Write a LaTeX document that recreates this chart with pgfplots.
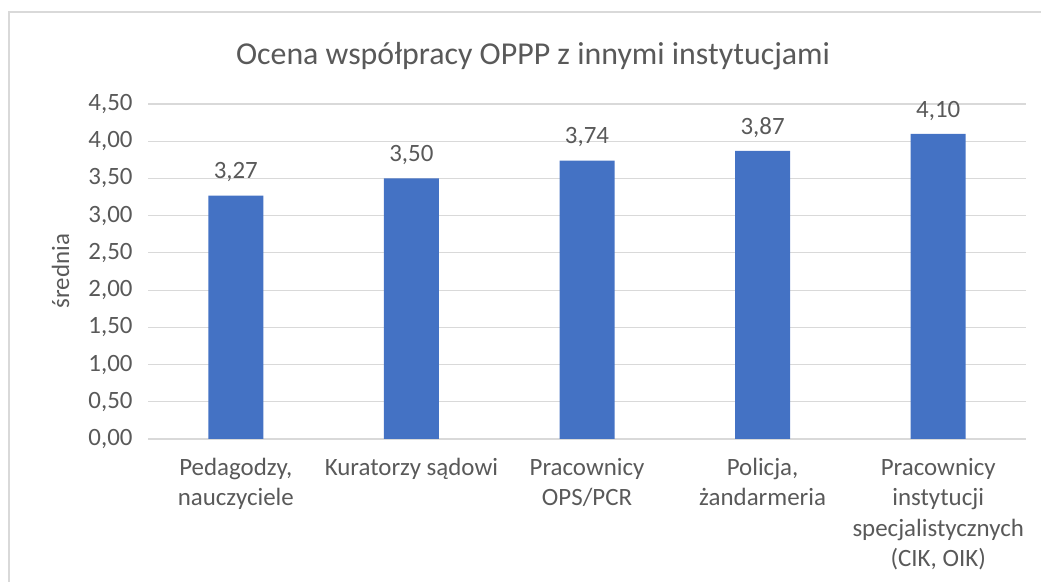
\documentclass[border=0pt]{standalone}
\usepackage{pgfplots}
\pgfplotsset{compat=1.18}
\usepackage{fontspec}
\setmainfont{Carlito}
\definecolor{bar}{HTML}{4472C4}
\definecolor{grid}{HTML}{D9D9D9}
\definecolor{txt}{HTML}{595959}
\begin{document}
\begin{tikzpicture}[x=1bp,y=1bp]
\path[use as bounding box] (0,0) rectangle (1041,582);
\draw[color=grid,line width=1.5bp] (9,-10) -- (9,570) -- (1060,570);
\node[anchor=base,text=txt,font=\fontsize{32}{36}\selectfont] at (533,517) {Ocena współpracy OPPP z innymi instytucjami};
\node[anchor=base,rotate=90,text=txt,font=\fontsize{25}{29}\selectfont] at (69,311) {średnia};
\begin{axis}[
  at={(148bp,143bp)}, anchor=south west,
  scale only axis, width=878bp, height=335bp,
  xmin=-0.5, xmax=4.5, ymin=0, ymax=4.5,
  ytick={0,0.5,...,4.5},
  xtick=data,
  xticklabels={{Pedagodzy,\\nauczyciele},{Kuratorzy sądowi},{Pracownicy\\OPS/PCR},{Policja,\\żandarmeria},{Pracownicy\\instytucji\\specjalistycznych\\(CIK, OIK)}},
  x tick label style={align=center, text=txt, font=\fontsize{25}{30.3}\selectfont, anchor=north, yshift=-16bp},
  y tick label style={text=txt, font=\fontsize{25}{29}\selectfont, xshift=-12bp},
  /pgf/number format/assume math mode=true,
  yticklabel style={/pgf/number format/.cd, fixed, fixed zerofill, precision=2, use comma},
  axis line style={draw=none},
  major tick length=0pt,
  ymajorgrids, grid style={color=grid, line width=1.2bp},
  ybar, bar width=55bp,
  nodes near coords,
  nodes near coords style={text=txt, font=\fontsize{25}{29}\selectfont, yshift=10bp, /pgf/number format/.cd, fixed, fixed zerofill, precision=2, use comma, assume math mode=true},
  clip=false,
]
\addplot[fill=bar, draw=none] coordinates {(0,3.27) (1,3.50) (2,3.74) (3,3.87) (4,4.10)};
\end{axis}
\end{tikzpicture}
\end{document}
